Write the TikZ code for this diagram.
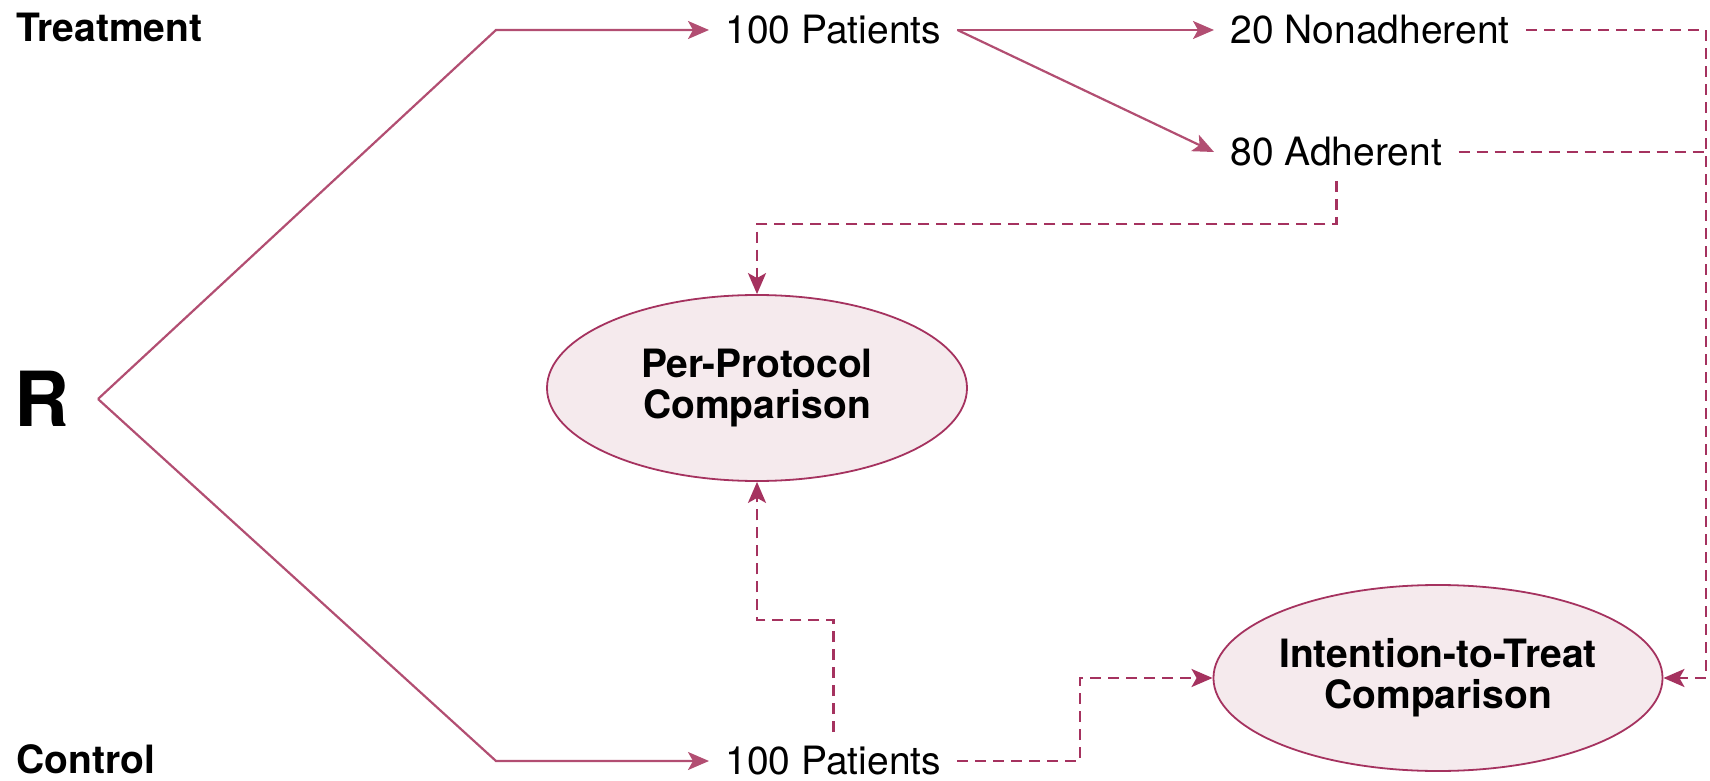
\documentclass[tikz,border=0pt]{standalone}
\usepackage{fontspec}
\setmainfont{TeX Gyre Heros}
\usetikzlibrary{arrows.meta,shapes.geometric}
\definecolor{lineC}{RGB}{178,78,114}
\definecolor{dashC}{RGB}{165,50,95}
\definecolor{ellF}{RGB}{245,234,237}
\begin{document}
\begin{tikzpicture}[x=0.5pt,y=-0.5pt,
  lbl/.style={inner xsep=8pt, inner ysep=0pt, font=\fontsize{19.5}{22}\selectfont},
  grp/.style={inner sep=0pt, font=\bfseries\fontsize{19.5}{22}\selectfont},
  cmp/.style={ellipse, draw=dashC, line width=0.9pt, fill=ellF, minimum width=210pt, minimum height=93pt, inner sep=0pt, align=center, font=\bfseries\fontsize{19.5}{20.5}\selectfont},
  solidln/.style={draw=lineC, line width=1.1pt},
  dashln/.style={draw=dashC, line width=1.3pt, dash pattern=on 5.5pt off 3.5pt},
  tip/.style={-{Stealth[length=10.5pt,width=9pt,inset=2.5pt]}}
]
\useasboundingbox (0,0) rectangle (1710,781);
% labels
\node[grp, anchor=west] (treat) at (16,27) {Treatment};
\node[grp, anchor=west] (ctrl) at (16,759) {Control};
\node[anchor=east, inner xsep=14pt, inner ysep=0pt, font=\bfseries\fontsize{38}{38}\selectfont] (R) at (98,399) {R};
\node[lbl, anchor=west] (pt) at (709,30) {100 Patients};
\node[lbl, anchor=west] (pb) at (709,761) {100 Patients};
\node[lbl, anchor=west] (nad) at (1214,30) {20 Nonadherent};
\node[lbl, anchor=west] (adh) at (1214,152) {80 Adherent};
\node[cmp] (pp) at (757,388) {Per-Protocol\\Comparison};
\node[cmp] (itt) at (1438,678) {Intention-to-Treat\\Comparison};
% helper coordinates
\coordinate (tc) at (496,30);
\coordinate (bc) at (496,761);
\coordinate (rx) at (1706,0);
\coordinate (h1) at (0,224);
\coordinate (h2) at (0,620);
\coordinate (v1) at (1080,0);
% solid connectors
\draw[solidln, tip] (R.east) -- (tc) -- (pt.west);
\draw[solidln, tip] (R.east) -- (bc) -- (pb.west);
\draw[solidln, tip] (pt.east) -- (nad.west);
\draw[solidln, tip] (pt.east) -- (adh.west);
% dashed connectors
\draw[dashln] (nad.east) -- (nad.east -| rx) -- (adh.east -| rx);
\draw[dashln, tip] (adh.east) -- (adh.east -| rx) -- (itt.east -| rx) -- (itt.east);
\draw[dashln, tip] ([yshift=-7pt]adh.south) -- (adh.south |- h1) -- (pp.north |- h1) -- (pp.north);
\draw[dashln, tip] ([yshift=7pt]pb.north) -- (pb.north |- h2) -- (pp.south |- h2) -- (pp.south);
\draw[dashln, tip] (pb.east) -- (pb.east -| v1) -- (itt.west -| v1) -- (itt.west);
\end{tikzpicture}
\end{document}
